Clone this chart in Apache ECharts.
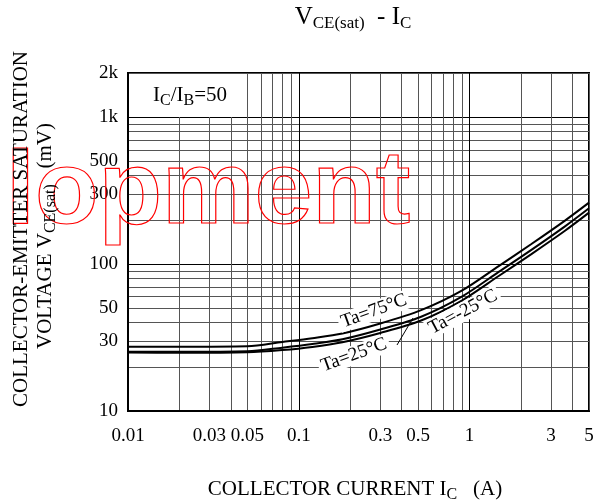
<!DOCTYPE html>
<html>
<head>
<meta charset="utf-8">
<script src="https://cdn.jsdelivr.net/npm/echarts@6/dist/echarts.min.js"></script>
<style>
html, body { margin: 0; padding: 0; background: #fff; }
#chart { width: 613px; height: 504px; }
</style>
</head>
<body>
<div id="chart"></div>
<script>
// collector current IC (A)
var ic = [0.01, 0.02, 0.05, 0.08, 0.12, 0.18, 0.3, 0.52, 0.9, 1.48, 2.3, 3.6, 5];
// VCE(sat) (mV) for each ambient temperature
var vce75 = [27.4, 27.4, 27.6, 29.5, 31.3, 33.7, 39.4, 48.6, 66, 97, 137, 197, 262];
var vce25 = [25.3, 25.3, 25.5, 27.0, 28.6, 30.8, 35.9, 43.8, 60, 88.5, 125, 180, 240];
var vceM25 = [25.0, 24.9, 25.1, 26.0, 27.3, 29.4, 34.0, 41.3, 56.5, 83, 117, 168, 224];
// tick labels
var xLabels = [0.01, 0.03, 0.05, 0.1, 0.3, 0.5, 1, 3, 5];
var yLabels = [10, 30, 50, 100, 300, 500, 1000, 2000];

var serif = '"Liberation Serif", "Times New Roman", serif';

// log grid: 1..9 of every decade
function logGrid(min, max) {
  var vals = [], cols = [];
  for (var d = min; d < max; d *= 10) {
    for (var k = 1; k <= 9; k++) {
      var v = +(k * d).toPrecision(3);
      if (v > max + 1e-9) break;
      vals.push(v);
      cols.push(k === 1 ? '#000' : '#555');
    }
  }
  return { vals: vals, cols: cols };
}
var xGrid = logGrid(0.01, 5);
var yGrid = logGrid(10, 2000);

function pairs(ys) {
  return ic.map(function (x, i) { return [x, ys[i]]; });
}
function curve(name, ys) {
  return {
    name: name,
    type: 'line',
    data: pairs(ys),
    smooth: 0.3,
    showSymbol: false,
    symbol: 'none',
    lineStyle: { color: '#000', width: 2 },
    z: 5
  };
}

// rich styles for text with subscripts
function subRich(size, subSize, subLift) {
  return {
    v: { fontFamily: serif, fontSize: size, fill: '#000', lineHeight: size + 6 },
    s: { fontFamily: serif, fontSize: subSize, fill: '#000', lineHeight: subLift, verticalAlign: 'bottom' }
  };
}

var chart = echarts.init(document.getElementById('chart'));
chart.setOption({
  animation: false,
  backgroundColor: '#fff',
  grid: {
    left: 128, right: 24, top: 73, bottom: 93,
    show: true, borderColor: '#000', borderWidth: 2
  },
  xAxis: {
    type: 'log', logBase: 10, min: 0.01, max: 5,
    axisLine: { show: true, lineStyle: { color: '#000', width: 2 } },
    axisTick: { show: false, customValues: xGrid.vals },
    splitLine: { show: true, lineStyle: { color: xGrid.cols, width: 1 } },
    axisLabel: {
      customValues: xLabels,
      color: '#000', fontFamily: serif, fontSize: 19, margin: 16,
      formatter: function (v) { return String(+v.toPrecision(3)); }
    }
  },
  yAxis: {
    type: 'log', logBase: 10, min: 10, max: 2000,
    axisLine: { show: true, lineStyle: { color: '#000', width: 2 } },
    axisTick: { show: false, customValues: yGrid.vals },
    splitLine: { show: true, lineStyle: { color: yGrid.cols, width: 1 } },
    axisLabel: {
      customValues: yLabels,
      color: '#000', fontFamily: serif, fontSize: 19, margin: 10,
      formatter: function (v) {
        v = +v.toPrecision(3);
        return v >= 1000 ? (v / 1000) + 'k' : String(v);
      }
    }
  },
  series: [
    curve('Ta=75°C', vce75),
    curve('Ta=25°C', vce25),
    curve('Ta=-25°C', vceM25)
  ],
  graphic: [
    // title
    {
      type: 'text', x: 353, y: 17, z: 100,
      style: {
        text: '{v|V}{s|CE(sat)}{v|  - I}{s|C}',
        align: 'center', verticalAlign: 'middle',
        rich: subRich(25, 17, 18)
      }
    },
    // watermark
    {
      type: 'text', z: 50, x: 6, y: 194,
      style: {
        text: 'lopment', fontFamily: '"Liberation Sans", Arial, sans-serif', fontWeight: 'bold',
        fontSize: 104, fill: 'none', stroke: '#f00', lineWidth: 1.2, verticalAlign: 'middle'
      }
    },
    // IC/IB box
    {
      type: 'rect', z: 60, shape: { x: 130, y: 74, width: 117, height: 43 }, style: { fill: '#fff' }
    },
    {
      type: 'text', z: 61, x: 153, y: 95,
      style: {
        text: '{v|I}{s|C}{v|/I}{s|B}{v|=50}', verticalAlign: 'middle',
        rich: subRich(21, 16, 16)
      }
    },
    // curve labels
    {
      type: 'text', z: 70, x: 374, y: 311, rotation: 20 * Math.PI / 180,
      style: {
        text: 'Ta=75°C', fontFamily: serif, fontSize: 19, fill: '#000',
        align: 'center', verticalAlign: 'middle', backgroundColor: '#fff', padding: [0, 3]
      }
    },
    {
      type: 'text', z: 70, x: 354, y: 355, rotation: 20 * Math.PI / 180,
      style: {
        text: 'Ta=25°C', fontFamily: serif, fontSize: 19, fill: '#000',
        align: 'center', verticalAlign: 'middle', backgroundColor: '#fff', padding: [0, 3]
      }
    },
    {
      type: 'line', z: 70, shape: { x1: 397, y1: 345, x2: 413, y2: 318 },
      style: { stroke: '#000', lineWidth: 1 }
    },
    {
      type: 'text', z: 70, x: 463, y: 312, rotation: 28 * Math.PI / 180,
      style: {
        text: 'Ta=-25°C', fontFamily: serif, fontSize: 19, fill: '#000',
        align: 'center', verticalAlign: 'middle', backgroundColor: '#fff', padding: [0, 3]
      }
    },
    // y axis name
    {
      type: 'text', z: 80, x: 21, y: 229, rotation: Math.PI / 2,
      style: {
        text: 'COLLECTOR-EMITTER SATURATION', fontFamily: serif, fontSize: 21, fill: '#000',
        align: 'center', verticalAlign: 'middle'
      }
    },
    {
      type: 'text', z: 80, x: 45, y: 236, rotation: Math.PI / 2,
      style: {
        text: '{v|VOLTAGE V}{s|CE(sat)}{v|   (mV)}', align: 'center', verticalAlign: 'middle',
        rich: subRich(21, 16, 16)
      }
    },
    // x axis name
    {
      type: 'text', z: 80, x: 355, y: 489,
      style: {
        text: '{v|COLLECTOR CURRENT I}{s|C}{v|   (A)}', align: 'center', verticalAlign: 'middle',
        rich: subRich(21, 16, 16)
      }
    }
  ]
});
</script>
</body>
</html>
